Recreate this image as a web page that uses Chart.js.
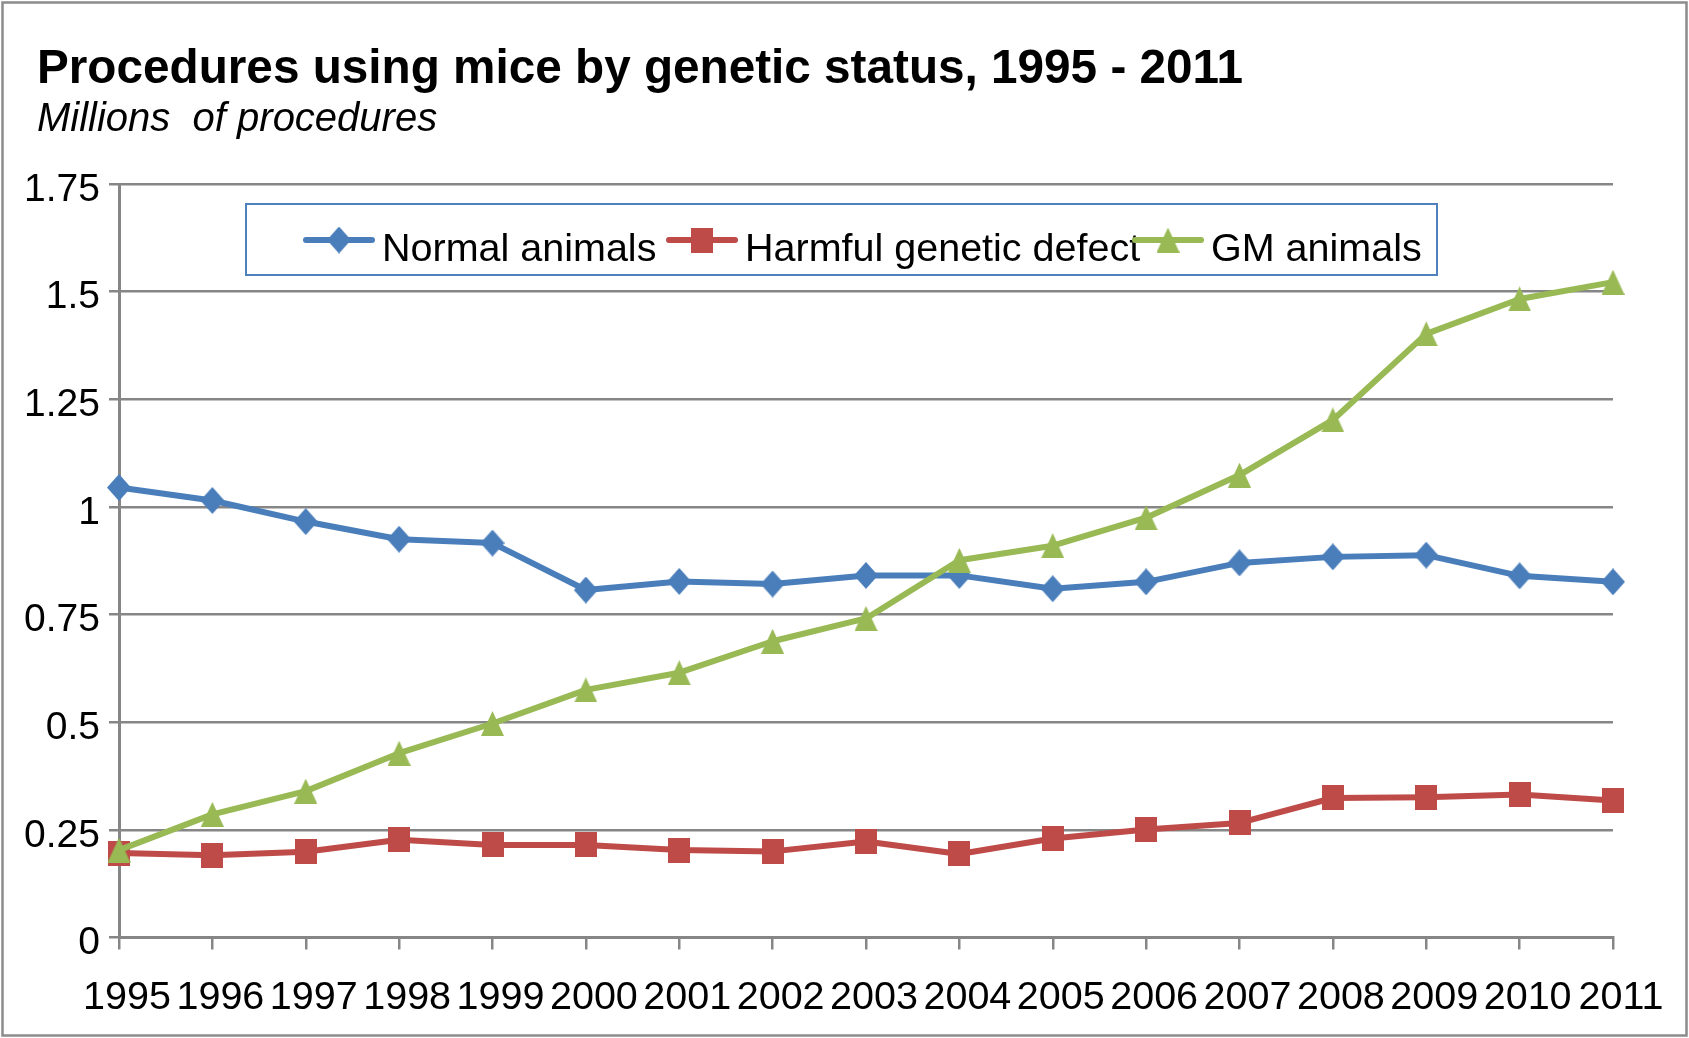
<!DOCTYPE html>
<html lang="en">
<head>
<meta charset="utf-8">
<title>Procedures using mice by genetic status, 1995 - 2011</title>
<script src="https://cdn.jsdelivr.net/npm/chart.js@4.4.1/dist/chart.umd.min.js"></script>
<style>
  html, body { margin: 0; padding: 0; background: #fff; }
  #chart { display: block; width: 1689px; height: 1038px; }
</style>
</head>
<body>
<canvas id="chart" width="1689" height="1038"></canvas>
<script>
// Years along the x axis
const years = ['1995', '1996', '1997', '1998', '1999', '2000', '2001', '2002', '2003',
               '2004', '2005', '2006', '2007', '2008', '2009', '2010', '2011'];

// Millions of procedures per year
const normalAnimals = [1.045, 1.015, 0.966, 0.925, 0.916, 0.807, 0.827, 0.821, 0.841,
                       0.841, 0.810, 0.826, 0.870, 0.884, 0.888, 0.840, 0.826];
const harmfulDefect = [0.196, 0.191, 0.199, 0.227, 0.215, 0.215, 0.203, 0.200, 0.223,
                       0.194, 0.230, 0.251, 0.266, 0.324, 0.326, 0.332, 0.318];
const gmAnimals     = [0.203, 0.286, 0.340, 0.428, 0.497, 0.575, 0.615, 0.688, 0.741,
                       0.876, 0.910, 0.975, 1.074, 1.202, 1.402, 1.483, 1.522];

// Value axis ticks
const yTicks = [0, 0.25, 0.5, 0.75, 1, 1.25, 1.5, 1.75];

const FONT = '"Liberation Sans", Arial, Helvetica, sans-serif';
const GRID = '#868686';
const BLUE = '#4a7ebb';
const RED = '#be4b48';
const GREEN = '#98b954';

// Marker bitmaps, slightly taller than wide
function makeMarker(shape, color, w, h) {
    const c = document.createElement('canvas');
    c.width = w;
    c.height = h;
    const ctx = c.getContext('2d');
    ctx.fillStyle = color;
    ctx.beginPath();
    if (shape === 'diamond') {
        ctx.moveTo(w / 2, 0);
        ctx.lineTo(w, h / 2);
        ctx.lineTo(w / 2, h);
        ctx.lineTo(0, h / 2);
    } else if (shape === 'triangle') {
        ctx.moveTo(w / 2, 0);
        ctx.lineTo(w, h);
        ctx.lineTo(0, h);
    } else {
        ctx.rect(0, 0, w, h);
    }
    ctx.closePath();
    ctx.fill();
    return c;
}

function series(label, data, color, marker, order) {
    return {
        label: label,
        data: data,
        borderColor: color,
        backgroundColor: color,
        borderWidth: 6,
        borderJoinStyle: 'round',
        borderCapStyle: 'round',
        pointStyle: marker,
        pointRadius: 12,
        tension: 0,
        clip: false,
        order: order
    };
}

// White page with the thin grey frame
const framePlugin = {
    id: 'frame',
    beforeDraw(chart) {
        const ctx = chart.ctx;
        ctx.save();
        ctx.fillStyle = '#fff';
        ctx.fillRect(0, 0, chart.width, chart.height);
        ctx.strokeStyle = '#8c8c8c';
        ctx.lineWidth = 2.5;
        ctx.strokeRect(2.5, 2.5, chart.width - 5, chart.height - 5);
        ctx.restore();
    }
};

// Title and italic unit line, flush left above the plot
const header = {
    id: 'header',
    afterDraw(chart, args, opts) {
        const ctx = chart.ctx;
        ctx.save();
        ctx.fillStyle = '#000';
        ctx.textAlign = 'left';
        ctx.textBaseline = 'alphabetic';
        ctx.font = 'bold 47.7px ' + FONT;
        ctx.fillText(opts.title, 37, 83);
        ctx.font = 'italic 40px ' + FONT;
        ctx.fillText(opts.subtitle, 37, 130.5);
        ctx.restore();
    }
};

// Boxed legend sitting inside the plot, line + marker + label per series
const boxLegend = {
    id: 'boxLegend',
    afterDraw(chart, args, opts) {
        const ctx = chart.ctx;
        ctx.save();
        ctx.fillStyle = '#fff';
        ctx.fillRect(opts.left, opts.top, opts.width, opts.height);
        ctx.strokeStyle = opts.borderColor;
        ctx.lineWidth = 2;
        ctx.strokeRect(opts.left, opts.top, opts.width, opts.height);

        ctx.font = opts.fontSize + 'px ' + FONT;
        ctx.textBaseline = 'alphabetic';
        ctx.textAlign = 'left';
        chart.data.datasets.forEach((ds, i) => {
            const x = opts.itemX[i];
            ctx.strokeStyle = ds.borderColor;
            ctx.lineWidth = ds.borderWidth;
            ctx.lineCap = 'round';
            ctx.beginPath();
            ctx.moveTo(x, opts.lineY);
            ctx.lineTo(x + opts.lineLength, opts.lineY);
            ctx.stroke();
            const m = ds.pointStyle;
            ctx.drawImage(m, x + opts.lineLength / 2 - m.width / 2, opts.lineY - m.height / 2);
            ctx.fillStyle = '#000';
            ctx.fillText(ds.label, x + opts.textGap, opts.textY);
        });
        ctx.restore();
    }
};

const chart = new Chart(document.getElementById('chart'), {
    type: 'line',
    data: {
        labels: years,
        datasets: [
            series('Normal animals', normalAnimals, BLUE, makeMarker('diamond', BLUE, 24, 27), 2),
            series('Harmful genetic defect', harmfulDefect, RED, makeMarker('square', RED, 22, 25), 1),
            series('GM animals', gmAnimals, GREEN, makeMarker('triangle', GREEN, 23, 25), 0)
        ]
    },
    options: {
        responsive: false,
        animation: false,
        devicePixelRatio: 1,
        events: [],
        layout: { padding: { left: 10, right: 76, top: 184, bottom: 0 } },
        plugins: {
            legend: { display: false },
            tooltip: { enabled: false },
            header: {
                title: 'Procedures using mice by genetic status, 1995 - 2011',
                subtitle: 'Millions  of procedures'
            },
            boxLegend: {
                left: 246, top: 204, width: 1191, height: 71,
                borderColor: '#4f81bd',
                fontSize: 39.5,
                itemX: [306, 669, 1135],
                lineLength: 66,
                lineY: 240,
                textGap: 76,
                textY: 261
            }
        },
        scales: {
            x: {
                offset: false,
                grid: { drawOnChartArea: false, color: GRID, lineWidth: 2.5, tickLength: 12 },
                border: { color: GRID, width: 3 },
                ticks: {
                    color: '#000',
                    font: { family: FONT, size: 39.5 },
                    padding: 25,
                    labelOffset: 8,
                    maxRotation: 0,
                    autoSkip: false
                },
                afterFit: (scale) => { scale.height = 100.5; }
            },
            y: {
                min: 0,
                max: 1.75,
                afterBuildTicks: (scale) => { scale.ticks = yTicks.map(v => ({ value: v })); },
                grid: { color: GRID, lineWidth: 2.5, tickLength: 10 },
                border: { color: GRID, width: 3 },
                ticks: {
                    color: '#000',
                    font: { family: FONT, size: 39 },
                    padding: 9,
                    labelOffset: 6,
                    callback: (value) => String(value)
                },
                afterFit: (scale) => { scale.width = 109; }
            }
        }
    },
    plugins: [framePlugin, header, boxLegend]
});
</script>
</body>
</html>
